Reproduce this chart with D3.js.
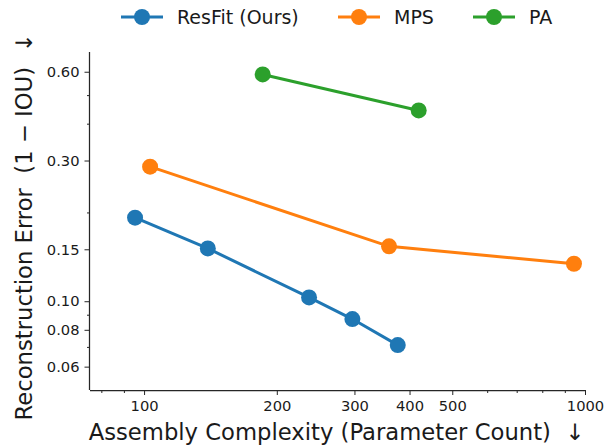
<!DOCTYPE html>
<html>
<head>
<meta charset="utf-8">
<script src="https://cdn.jsdelivr.net/npm/d3@7"></script>
<style>
  body { margin: 0; background: #fff; }
  svg { display: block; font-family: "DejaVu Sans", sans-serif; }
  text { white-space: pre; }
</style>
</head>
<body>
<svg id="chart" width="615" height="446"></svg>
<script>
// ---- data ----
const seriesNames = ["ResFit (Ours)", "MPS", "PA"];
const seriesColors = ["#1f77b4", "#ff7f0e", "#2ca02c"];
const resfitX = [95.4, 139.5, 236.7, 296.8, 376.1];
const resfitY = [0.192, 0.151, 0.103, 0.087, 0.071];
const mpsX = [103.2, 359.4, 944];
const mpsY = [0.286, 0.1535, 0.134];
const paX = [185.8, 419.6];
const paY = [0.5875, 0.4436];
const xMajorTicks = [100, 200, 300, 400, 500, 1000];
const xMinorTicks = [80, 90, 600, 700, 800, 900];
const yMajorTicks = [0.06, 0.08, 0.10, 0.15, 0.30, 0.60];
const yMinorTicks = [0.07, 0.09, 0.2, 0.4, 0.5];
const xLabel = "Assembly Complexity (Parameter Count)  \u2193";
const yLabel = "Reconstruction Error  (1 \u2212 IOU)  \u2193";

const series = [
  {name: seriesNames[0], color: seriesColors[0], pts: resfitX.map((x, i) => [x, resfitY[i]])},
  {name: seriesNames[1], color: seriesColors[1], pts: mpsX.map((x, i) => [x, mpsY[i]])},
  {name: seriesNames[2], color: seriesColors[2], pts: paX.map((x, i) => [x, paY[i]])}
];

// ---- layout ----
const svg = d3.select("#chart");
const L = 90, R = 585, T = 52, B = 390;
const x = d3.scaleLog().domain([75.4, 1000]).range([L, R]);
const y = d3.scaleLog().domain([0.05, 0.70]).range([B, T]);
const axisColor = "#262626";

// axes
const xAxis = svg.append("g").attr("transform", `translate(0,${B})`)
  .call(d3.axisBottom(x).tickValues(xMajorTicks).tickFormat(d3.format("d")).tickSize(5).tickPadding(6));
const xMinor = svg.append("g").attr("transform", `translate(0,${B})`)
  .call(d3.axisBottom(x).tickValues(xMinorTicks).tickFormat("").tickSize(3));
const yAxis = svg.append("g").attr("transform", `translate(${L},0)`)
  .call(d3.axisLeft(y).tickValues(yMajorTicks).tickFormat(d3.format(".2f")).tickSize(5.5).tickPadding(5));
const yMinor = svg.append("g").attr("transform", `translate(${L},0)`)
  .call(d3.axisLeft(y).tickValues(yMinorTicks).tickFormat("").tickSize(3));

[xAxis, xMinor, yAxis, yMinor].forEach(g => {
  g.select(".domain").attr("stroke", axisColor).attr("stroke-width", 1.25);
  g.selectAll(".tick line").attr("stroke", axisColor).attr("stroke-width", 1);
  g.selectAll(".tick text").attr("fill", "#1a1a1a").style("font-size", "14.7px")
    .style("font-family", "DejaVu Sans");
});
xMinor.select(".domain").remove();
yMinor.select(".domain").remove();
xAxis.select(".domain").attr("d", `M${L},0.5H${R}`);
yAxis.select(".domain").attr("d", `M-0.5,${T}V${B}`);

// lines and markers
const line = d3.line().x(d => x(d[0])).y(d => y(d[1]));
series.forEach(s => {
  svg.append("path").datum(s.pts).attr("d", line)
    .attr("fill", "none").attr("stroke", s.color).attr("stroke-width", 3);
  svg.append("g").selectAll("circle").data(s.pts).join("circle")
    .attr("cx", d => x(d[0])).attr("cy", d => y(d[1])).attr("r", 8)
    .attr("fill", s.color);
});

// axis labels
svg.append("text").attr("x", (L + R) / 2 - 1).attr("y", 440).attr("text-anchor", "middle")
  .style("font-size", "22.7px").attr("fill", "#1a1a1a").text(xLabel);
svg.append("text").attr("transform", `translate(32,${(T + B) / 2 + 6}) rotate(-90)`)
  .attr("text-anchor", "middle").style("font-size", "22.7px").attr("fill", "#1a1a1a").text(yLabel);

// legend
const legendX = [121, 338, 473];
const leg = svg.append("g");
series.forEach((s, i) => {
  const g = leg.append("g").attr("transform", `translate(${legendX[i]},17)`);
  g.append("line").attr("x1", 0).attr("x2", 42).attr("y1", 0).attr("y2", 0)
    .attr("stroke", s.color).attr("stroke-width", 3);
  g.append("circle").attr("cx", 21).attr("cy", 0).attr("r", 8).attr("fill", s.color);
  g.append("text").attr("x", 56).attr("y", 7).style("font-size", "19px")
    .attr("fill", "#1a1a1a").text(s.name);
});
</script>
</body>
</html>
